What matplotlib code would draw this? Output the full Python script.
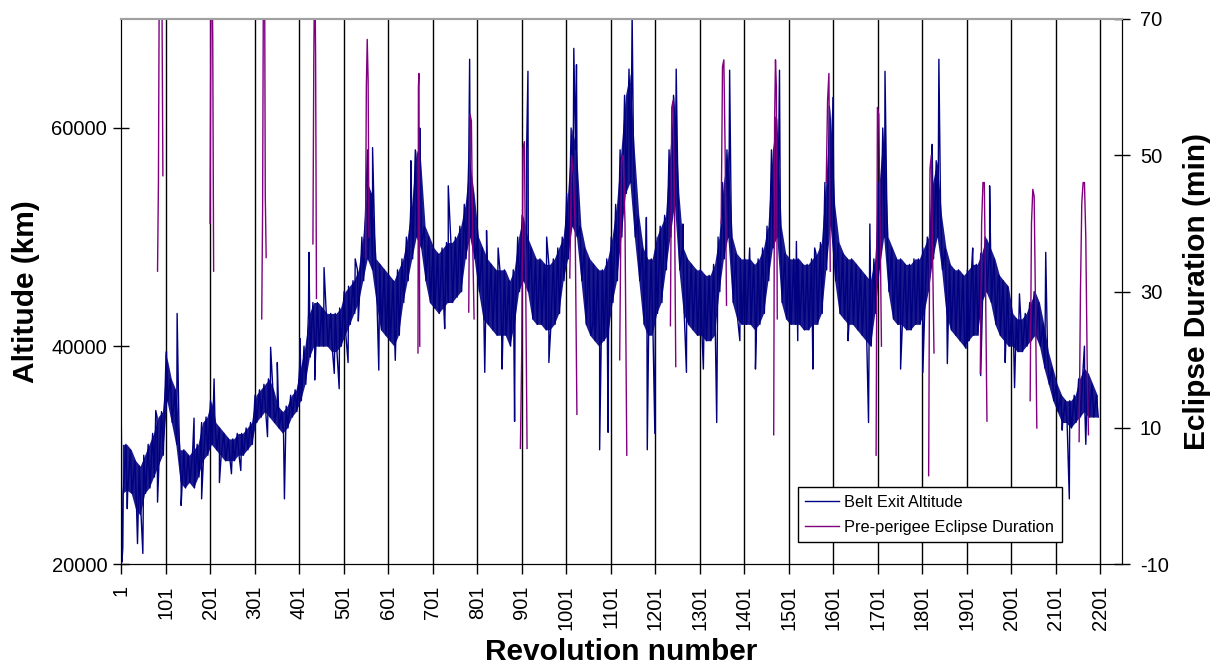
import numpy as np
import matplotlib.pyplot as plt

plt.rcParams['font.family'] = ['Liberation Sans', 'DejaVu Sans']
plt.rcParams['axes.unicode_minus'] = False

# Belt exit altitude (thousand km): low / high of each 10-revolution block, rev 1..2196
alt_lo = [
    26.5, 26.8, 26.5, 25.0, 24.5, 26.5, 27.0, 28.0, 29.0, 30.0,
    35.0, 33.0, 31.0, 27.5, 27.0, 27.5, 27.0, 28.0, 29.5, 30.0,
    31.0, 30.5, 30.0, 29.5, 29.5, 29.5, 30.0, 30.0, 30.5, 31.0,
    33.0, 33.5, 34.0, 33.5, 33.0, 32.5, 32.0, 32.5, 33.5, 34.0,
    35.0, 36.5, 39.0, 40.0, 40.0, 40.0, 40.0, 39.5, 39.5, 40.0,
    41.0, 42.0, 43.0, 44.0, 46.0, 48.0, 47.0, 44.0, 41.5, 41.0,
    40.5, 40.0, 41.0, 44.0, 46.0, 48.0, 50.0, 49.0, 46.0, 44.0,
    43.5, 43.0, 43.5, 44.0, 44.0, 44.5, 45.0, 48.0, 50.0, 48.0,
    45.0, 42.5, 42.0, 41.5, 41.0, 41.0, 41.0, 40.0, 42.0, 45.0,
    46.0, 45.0, 42.5, 42.0, 42.0, 41.5, 41.5, 42.0, 43.0, 46.0,
    48.0, 51.0, 50.0, 46.0, 42.0, 41.0, 40.5, 40.0, 40.5, 41.0,
    44.0, 46.0, 50.0, 54.0, 55.0, 50.0, 46.0, 42.0, 41.0, 41.0,
    43.0, 44.0, 47.0, 50.0, 53.0, 47.0, 43.0, 42.0, 41.5, 41.0,
    41.0, 40.5, 40.5, 41.0, 45.0, 48.0, 50.0, 44.0, 42.5, 42.0,
    42.0, 42.0, 41.5, 42.0, 43.0, 46.0, 49.0, 50.0, 44.0, 42.5,
    42.0, 42.0, 42.0, 41.5, 41.5, 42.0, 42.0, 43.0, 47.0, 51.0,
    46.0, 43.0, 42.5, 42.0, 42.0, 41.5, 41.0, 40.5, 40.0, 43.0,
    47.0, 50.0, 45.0, 42.5, 42.0, 42.0, 41.5, 41.5, 42.0, 42.0,
    43.0, 45.0, 48.0, 50.0, 47.0, 43.0, 41.5, 41.0, 40.5, 40.0,
    40.5, 41.0, 41.0, 44.0, 45.0, 44.0, 42.0, 41.0, 40.5, 40.0,
    40.0, 39.5, 39.5, 40.0, 40.5, 41.0, 40.0, 38.0, 36.5, 35.0,
    34.0, 33.0, 33.0, 32.5, 33.0, 33.5, 34.0, 33.5, 33.5, 33.5,
]
alt_hi = [
    31.0, 31.0, 30.5, 29.5, 29.0, 30.0, 31.0, 32.0, 33.5, 34.0,
    39.0, 37.0, 36.0, 30.5, 30.5, 30.0, 30.5, 31.0, 33.0, 33.5,
    35.0, 33.0, 32.5, 32.0, 31.5, 31.5, 32.0, 32.0, 32.5, 33.0,
    35.5, 36.0, 36.5, 37.0, 36.0, 34.5, 34.0, 34.5, 35.5, 36.0,
    38.0, 40.0, 43.0, 44.0, 44.0, 43.5, 43.0, 43.0, 43.0, 43.5,
    45.0, 45.5, 46.0, 47.0, 50.0, 55.0, 54.0, 48.0, 47.5, 47.0,
    46.5, 46.0, 47.0, 48.0, 50.0, 53.0, 58.0, 57.0, 51.0, 50.0,
    49.0, 48.5, 49.0, 49.5, 49.5, 50.0, 51.0, 53.0, 57.0, 54.0,
    50.0, 49.0, 48.0, 47.5, 47.0, 47.0, 47.0, 46.0, 47.0, 50.0,
    52.0, 50.0, 49.0, 48.0, 48.0, 47.5, 47.5, 48.0, 49.0, 50.0,
    54.0, 60.0, 58.0, 51.0, 49.0, 48.0, 47.5, 47.0, 47.0, 48.0,
    50.0, 53.0, 58.0, 63.0, 65.0, 58.0, 52.0, 49.0, 48.0, 48.0,
    50.0, 51.0, 52.0, 58.0, 63.0, 54.0, 49.0, 48.0, 47.5, 47.0,
    47.0, 46.5, 46.5, 47.5, 50.0, 55.0, 58.0, 50.0, 48.5, 48.0,
    48.0, 48.0, 47.5, 48.0, 49.0, 51.0, 58.0, 61.0, 51.0, 48.5,
    48.0, 48.0, 48.0, 47.5, 47.5, 48.0, 48.5, 49.5, 55.0, 62.0,
    53.0, 49.5, 48.5, 48.0, 48.0, 47.5, 47.0, 46.5, 46.0, 48.0,
    55.0, 60.0, 50.0, 49.0, 48.0, 48.0, 47.5, 47.5, 48.0, 48.0,
    49.0, 50.0, 55.0, 57.0, 52.0, 49.0, 47.5, 47.0, 47.0, 46.5,
    47.0, 47.5, 47.5, 48.5, 50.0, 49.0, 48.0, 46.5, 46.0, 45.5,
    43.0, 42.5, 42.5, 43.0, 44.0, 45.0, 44.0, 42.0, 39.5, 38.0,
    36.5, 35.5, 35.0, 35.0, 35.5, 37.0, 38.0, 37.5, 36.5, 35.5,
]

# single revolutions standing out of the band (rev, thousand km)
spikes = [
    (1, 36.0), (3, 20.2), (5, 21.5), (15, 25.1), (38, 21.9), (50, 21.0), (79, 34.1),
    (83, 25.7), (103, 39.5), (127, 43.0), (136, 25.4), (165, 33.4), (182, 26.0),
    (210, 37.0), (222, 27.5), (249, 28.3), (270, 28.6), (330, 31.7), (337, 39.9),
    (352, 38.5), (368, 26.0), (403, 40.7), (423, 48.6), (436, 36.9), (457, 47.2),
    (480, 37.5), (491, 36.1), (511, 38.5), (527, 48.0), (534, 42.3), (555, 58.0),
    (566, 58.2), (580, 37.8), (617, 38.7), (652, 57.0), (672, 60.0), (728, 41.6),
    (736, 54.7), (784, 66.3), (818, 37.6), (822, 50.6), (848, 49.0), (857, 37.9),
    (885, 33.1), (912, 58.0), (915, 65.2), (957, 50.0), (962, 38.5), (1018, 67.3),
    (1024, 65.8), (1061, 42.0), (1076, 30.5), (1095, 32.1), (1142, 65.4),
    (1149, 70.5), (1181, 51.8), (1183, 30.5), (1200, 32.0), (1248, 65.4),
    (1263, 51.2), (1271, 37.6), (1309, 37.9), (1339, 33.0), (1368, 65.3),
    (1391, 40.5), (1413, 49.0), (1426, 37.9), (1480, 65.3), (1518, 49.6),
    (1521, 40.5), (1555, 37.9), (1559, 49.0), (1600, 62.8), (1634, 40.5),
    (1680, 33.0), (1683, 51.2), (1717, 65.2), (1752, 37.9), (1802, 37.6),
    (1823, 58.5), (1838, 66.3), (1857, 38.4), (1899, 39.8), (1914, 49.0),
    (1932, 37.3), (1952, 54.7), (1974, 46.4), (1987, 38.5), (2008, 36.2),
    (2019, 44.8), (2078, 48.6), (2115, 32.3), (2131, 26.0), (2165, 40.0),
    (2168, 31.0),
]

# pre-perigee eclipse seasons: first revolution, revolutions between points, durations (min)
season_start = [83, 201, 317, 432, 550, 668, 782, 898, 1009, 1121,
                1235, 1349, 1467, 1585, 1697, 1815, 1931, 2043, 2153]
season_step = [2, 2, 2, 2, 2, 1, 3, 3, 4, 4, 3, 3, 2, 3, 3, 3, 3, 3, 3]
season_min = [
    [33, 46, 78, 88, 84, 72, 47],
    [40, 72, 80, 67, 33],
    [26, 42, 80, 88, 44, 35],
    [37, 64, 80, 65, 29],
    [35, 60, 67, 61, 38],
    [21, 60, 62, 41, 22],
    [27, 56, 55, 37, 26],
    [7, 21, 51, 52, 31, 7],
    [32, 50, 47, 40, 12],
    [20, 49, 50, 40, 6],
    [25, 57, 58, 45, 19],
    [40, 63, 64, 50, 28],
    [9, 55, 64, 60, 26],
    [46, 58, 62, 33],
    [6, 57, 56, 40, 22],
    [3, 48, 50, 35, 21],
    [18, 40, 46, 46, 30, 11],
    [14, 40, 45, 44, 28, 10],
    [8, 30, 43, 46, 46, 38, 20, 9],
]

# altitude line: high and low of every block, spikes merged in by revolution
bx, by = [], []
for i in range(len(alt_lo)):
    bx += [10 * i + 2, 10 * i + 6]
    by += [alt_hi[i], alt_lo[i]]
bx = np.array(bx + [s[0] for s in spikes], dtype=float)
by = np.array(by + [s[1] for s in spikes]) * 1000
order = np.argsort(bx, kind='stable')
bx, by = bx[order], by[order]
block_x = np.arange(len(alt_lo)) * 10 + 4

# eclipse line, broken between seasons
ex, ey = [], []
for s, st, vals in zip(season_start, season_step, season_min):
    ex += [s + st * k for k in range(len(vals))] + [np.nan]
    ey += vals + [np.nan]

fig = plt.figure(figsize=(12.25, 6.71), dpi=100)
ax = fig.add_axes([0.0988, 0.159, 0.817, 0.8128])
ax2 = ax.twinx()

xticks = list(range(1, 2202, 100))
for t in xticks[1:]:
    ax.axvline(t, color='black', lw=1.0, zorder=0)

navy = '#000080'
ax.fill_between(block_x, np.array(alt_lo) * 1000, np.array(alt_hi) * 1000,
                color=navy, alpha=0.9, lw=0, zorder=1)
l1, = ax.plot(bx, by, color=navy, lw=1.0, label='Belt Exit Altitude', zorder=2)
l2, = ax2.plot(ex, ey, color='#800080', lw=1.0, label='Pre-perigee Eclipse Duration')

ax.set_xlim(1, 2249)
ax.set_ylim(20000, 70000)
ax2.set_ylim(-10, 70)

ax.set_xticks(xticks)
ax.set_xticklabels([str(t) for t in xticks], rotation=90, fontsize=14.5)
ax.tick_params(axis='x', direction='out', length=7, width=1, pad=8)
ax.set_yticks([20000, 40000, 60000])
ax.tick_params(axis='y', direction='inout', length=12, width=1, labelsize=14.5, pad=4)
ax2.set_yticks([-10, 10, 30, 50, 70])
ax2.tick_params(axis='y', direction='inout', length=12, width=1, labelsize=14.5, pad=7)

for a in (ax, ax2):
    a.spines['top'].set_color('#a0a0a0')
    a.spines['top'].set_linewidth(1.5)

ax.set_xlabel('Revolution number', fontsize=21.5, fontweight='bold', labelpad=6)
ax.set_ylabel('Altitude (km)', fontsize=21.5, fontweight='bold', labelpad=8)
ax2.set_ylabel('Eclipse Duration (min)', fontsize=21.5, fontweight='bold', labelpad=10)

leg = ax.legend(handles=[l1, l2], loc='lower left', bbox_to_anchor=(0.676, 0.041),
                borderaxespad=0, fontsize=11.8, fancybox=False, framealpha=1,
                edgecolor='black', handlelength=2.1, handletextpad=0.3,
                labelspacing=0.6, borderpad=0.45)
leg.get_frame().set_linewidth(1.0)
leg.remove()
ax2.add_artist(leg)

fig.savefig('out.png', dpi=100)
